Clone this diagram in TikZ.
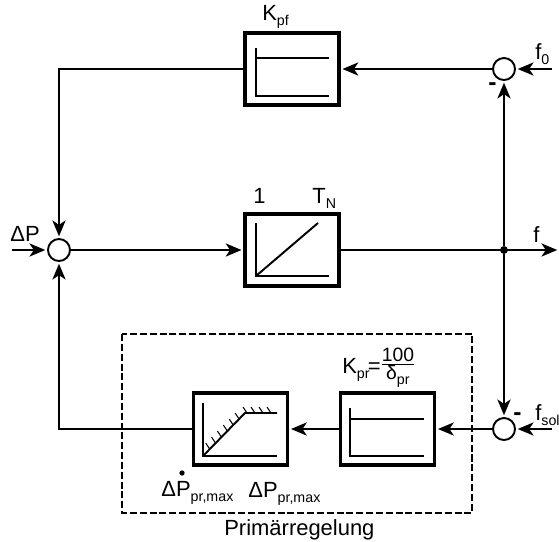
\documentclass[tikz,border=0pt]{standalone}
\usepackage{fontspec}
\setmainfont{Liberation Sans}
\usetikzlibrary{arrows.meta,calc}
\newcommand{\lowtxt}[1]{\raisebox{-3pt}{\fontsize{8.1}{9}\selectfont #1}}
\tikzset{
  block/.style={draw, line width=2pt, minimum width=1.88cm, minimum height=1.44cm, inner sep=0pt},
  sumpt/.style={draw, circle, line width=1.1pt, minimum size=.44cm, inner sep=0pt, fill=white},
  junct/.style={circle, fill, minimum size=4.5pt, inner sep=0pt},
  lbl/.style={anchor=base west, inner sep=0pt, font=\fontsize{12.5}{15}\selectfont},
  sig/.style={line width=1.1pt},
  arr/.style={sig, -{Stealth[length=9pt, width=7.5pt, inset=2.5pt]}, shorten >=1pt},
  curve/.style={line width=1.1pt},
  curveb/.style={line width=1.5pt}
}
\begin{document}
\begin{tikzpicture}[x=.02cm, y=-.02cm]
\useasboundingbox (0,0) rectangle (559,542);

\node[block] (kpf) at (292,69) {};
\node[block] (tn) at (292,250) {};
\node[block] (kpr) at (387.5,429) {};
\node[block] (lim) at (240.5,429) {};

\node[sumpt] (sumf) at (504,69) {};
\node[sumpt] (sumsol) at (504,429) {};
\node[sumpt] (sump) at (59,250) {};
\node[junct] (jf) at (504,250) {};

\coordinate (f0in) at (552,69);
\coordinate (fsolin) at (552,429);
\coordinate (pin) at (12,250);
\coordinate (fout) at (559,250);
\coordinate (ctop) at (59,69);
\coordinate (cbot) at (59,429);

%%%%%%%%%%%%%-------------upper and middle path
\draw[arr] (f0in)--(sumf);
\draw[arr] (sumf)--(kpf);
\draw[arr] (kpf)--(ctop)--(sump);
\draw[arr] (pin)--(sump);
\draw[arr] (sump)--(tn);
\draw[arr] (tn)--(fout);
\draw[arr] (jf)--(sumf);
\draw[arr] (jf)--(sumsol);

%%%%%%%%%%%%%-------------lower path
\draw[arr] (fsolin)--(sumsol);
\draw[arr] (sumsol)--(kpr);
\draw[arr] (kpr)--(lim);
\draw[arr] (lim)--(cbot)--(sump);

\draw[dashed, line width=.7pt, dash pattern=on 4pt off 1.6pt] (122,334) rectangle (472,513);

%%%%%%%%%%%%%-------------block contents
\draw[curveb] (256,48)--(256,96)--(329,96);
\draw[curve] (256,58)--(329,58);

\draw[curveb] (256,223)--(256,276)--(329,276);
\draw[curve] (256,276)--(318,223);

\draw[curveb] (350,408)--(350,456)--(424,456);
\draw[curve] (350,419)--(424,419);

\draw[curveb] (203,403)--(203,456)--(277,456);
\draw[curve] (203,456)--(245,413)--(277,413);
\foreach \t in {.16,.3,.44,.58,.72,.86}{
\draw[line width=.6pt] ($(203,456)!\t!(245,413)$)--++(-4,-6);}
\foreach \x in {247,255,263,271}{
\draw[line width=.6pt] (\x,413)--++(-4,-6);}

%%%%%%%%%%%%%-------------labels
\node[lbl] (lkpf) at (262,20) {K\lowtxt{pf}};
\node[lbl] (lone) at (253,203) {1};
\node[lbl] (ltn) at (312,203) {T\lowtxt{N}};
\node[lbl] (ldp) at (10,241) {ΔP};
\node[lbl] (lf) at (533,242) {f};
\node[lbl] (lf0) at (535,59) {f\lowtxt{0}};
\node[lbl] (lfsol) at (535,420) {f\lowtxt{sol}};
\node[lbl, font=\fontsize{14}{15}\selectfont\bfseries] (lmf) at (488,90) {-};
\node[lbl, font=\fontsize{14}{15}\selectfont\bfseries] (lms) at (513,420) {-};
\node[lbl] (lkpr) at (342,373) {K\lowtxt{pr}\kern-1pt=\kern-.6pt\raisebox{2pt}{$\frac{\mbox{\fontsize{11}{13}\selectfont 100}}{\mbox{\fontsize{11}{13}\selectfont δ\lowtxt{pr}}}$}};
\node[lbl] (ldpd) at (161,496) {ΔP\lowtxt{pr,max}};
\fill (182,473) circle (2.7);
\node[lbl] (ldpm) at (248,497) {ΔP\lowtxt{pr,max}};
\node[lbl] (lprim) at (224,535) {Primärregelung};
\end{tikzpicture}
\end{document}
